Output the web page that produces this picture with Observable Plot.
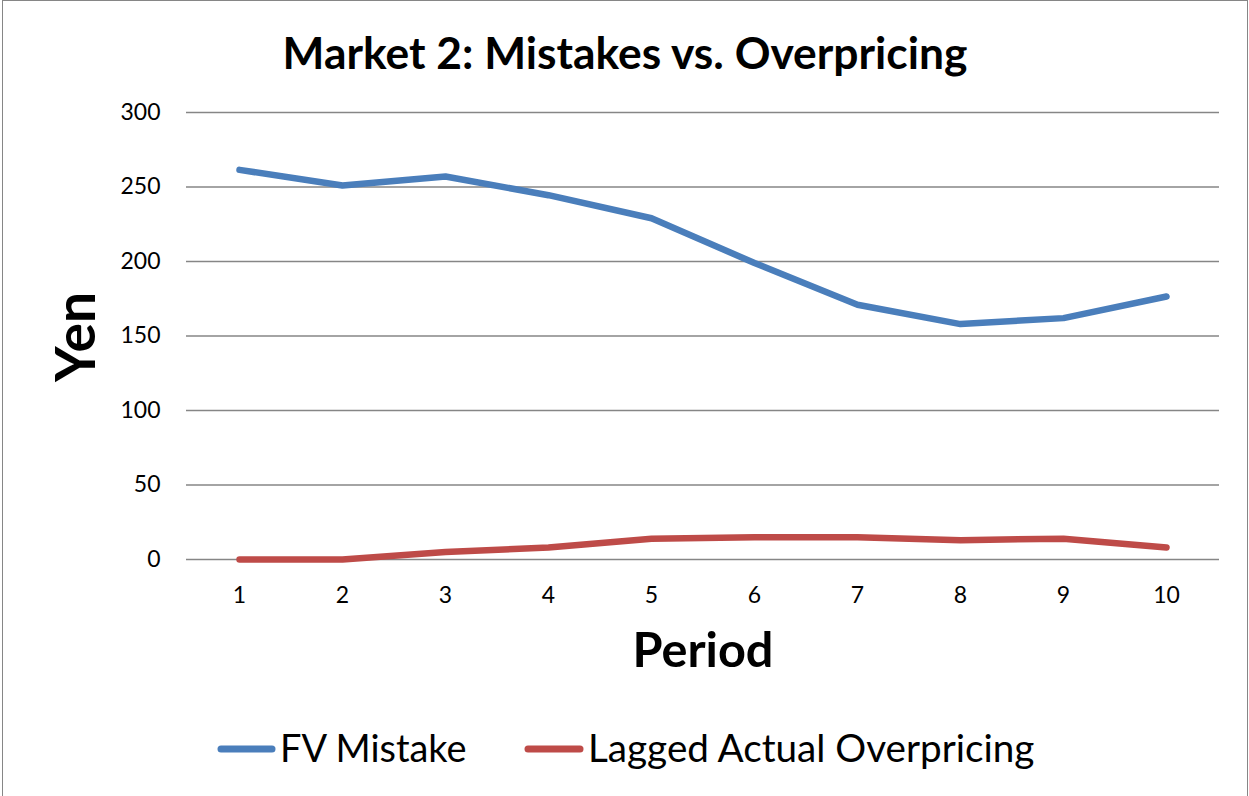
<!DOCTYPE html>
<html>
<head>
<meta charset="utf-8">
<script src="https://cdn.jsdelivr.net/npm/d3@7"></script>
<script src="https://cdn.jsdelivr.net/npm/@observablehq/plot@0.6"></script>
<style>
  html, body { margin: 0; padding: 0; background: #fff; }
  #wrap { position: relative; width: 1249px; height: 796px; overflow: hidden; background: #fff; }
  #frame { position: absolute; left: 2px; top: 0; width: 1244px; height: 820px;
           border: 1px solid #868686; border-bottom: none; }
  #wrap svg { position: absolute; left: 0; top: 0; }
</style>
</head>
<body>
<div id="wrap"><div id="frame"></div></div>
<script>
// ---- data ----
const periods = [1, 2, 3, 4, 5, 6, 7, 8, 9, 10];
const fvMistake = [261.5, 251, 257, 244.5, 229, 199, 171, 158, 162, 176.5];
const laggedOverpricing = [0, 0, 5, 8, 14, 15, 15, 13, 14, 8];
const yTicks = [0, 50, 100, 150, 200, 250, 300];
const seriesNames = ["FV Mistake", "Lagged Actual Overpricing"];
const seriesColors = ["#4A7EBB", "#BE4B48"];
const titleText = "Market 2: Mistakes vs. Overpricing";
const xLabel = "Period";
const yLabel = "Yen";

const FONT = "Lato, 'Open Sans', sans-serif";
const ctx = document.createElement("canvas").getContext("2d");
function fit(text, weight, targetW) {
  ctx.font = `${weight} 100px ${FONT}`;
  return 100 * targetW / ctx.measureText(text).width;
}

const rows = [];
periods.forEach((p, i) => {
  rows.push({period: p, value: fvMistake[i], series: seriesNames[0]});
  rows.push({period: p, value: laggedOverpricing[i], series: seriesNames[1]});
});

const tickFs = fit("300", "normal", 40);

const chart = Plot.plot({
  width: 1249,
  height: 796,
  marginLeft: 186,
  marginRight: 30,
  marginTop: 112,
  marginBottom: 237,
  style: {fontFamily: FONT, color: "#000", background: "transparent"},
  x: {type: "point", domain: periods, padding: 0.5, axis: null},
  y: {domain: [0, 300], axis: null},
  color: {domain: seriesNames, range: seriesColors},
  marks: [
    Plot.ruleY(yTicks, {stroke: "#868686", strokeWidth: 1.5}),
    Plot.axisY(yTicks, {tickSize: 0, tickPadding: 26, fontSize: tickFs, label: null, fill: "#000"}),
    Plot.axisX(periods, {tickSize: 0, tickPadding: 27, fontSize: tickFs, label: null, fill: "#000"}),
    Plot.line(rows, {x: "period", y: "value", z: "series", stroke: "series",
      strokeWidth: 6.5, strokeLinecap: "round", strokeLinejoin: "round"})
  ]
});
document.getElementById("wrap").appendChild(chart);

// ---- text overlay: title, axis labels, legend ----
const ns = "http://www.w3.org/2000/svg";
const ov = document.createElementNS(ns, "svg");
ov.setAttribute("width", 1249);
ov.setAttribute("height", 796);
ov.style.fontFamily = FONT;
function txt(s, attrs) {
  const t = document.createElementNS(ns, "text");
  for (const k in attrs) t.setAttribute(k, attrs[k]);
  t.textContent = s;
  ov.appendChild(t);
  return t;
}
function ln(attrs) {
  const l = document.createElementNS(ns, "line");
  for (const k in attrs) l.setAttribute(k, attrs[k]);
  ov.appendChild(l);
}
txt(titleText, {x: 625, y: 69, "text-anchor": "middle", "font-weight": "bold",
  "font-size": fit(titleText, "bold", 686), fill: "#000"});
txt(xLabel, {x: 703, y: 667, "text-anchor": "middle", "font-weight": "bold",
  "font-size": fit(xLabel, "bold", 141), fill: "#000"});
txt(yLabel, {x: 0, y: 0, "text-anchor": "middle", "font-weight": "bold",
  transform: "translate(95,337) rotate(-90)",
  "font-size": fit(yLabel, "bold", 90), fill: "#000"});
// legend
const legendItems = [
  {name: seriesNames[0], color: seriesColors[0], x0: 218, x1: 275, tx: 280, w: 188},
  {name: seriesNames[1], color: seriesColors[1], x0: 525, x1: 583, tx: 588, w: 448}
];
legendItems.forEach(d => {
  ln({x1: d.x0 + 3, x2: d.x1 - 3, y1: 749, y2: 749, stroke: d.color, "stroke-width": 7, "stroke-linecap": "round"});
  txt(d.name, {x: d.tx, y: 762, "font-size": fit(d.name, "normal", d.w), fill: "#000"});
});
document.getElementById("wrap").appendChild(ov);
</script>
</body>
</html>
